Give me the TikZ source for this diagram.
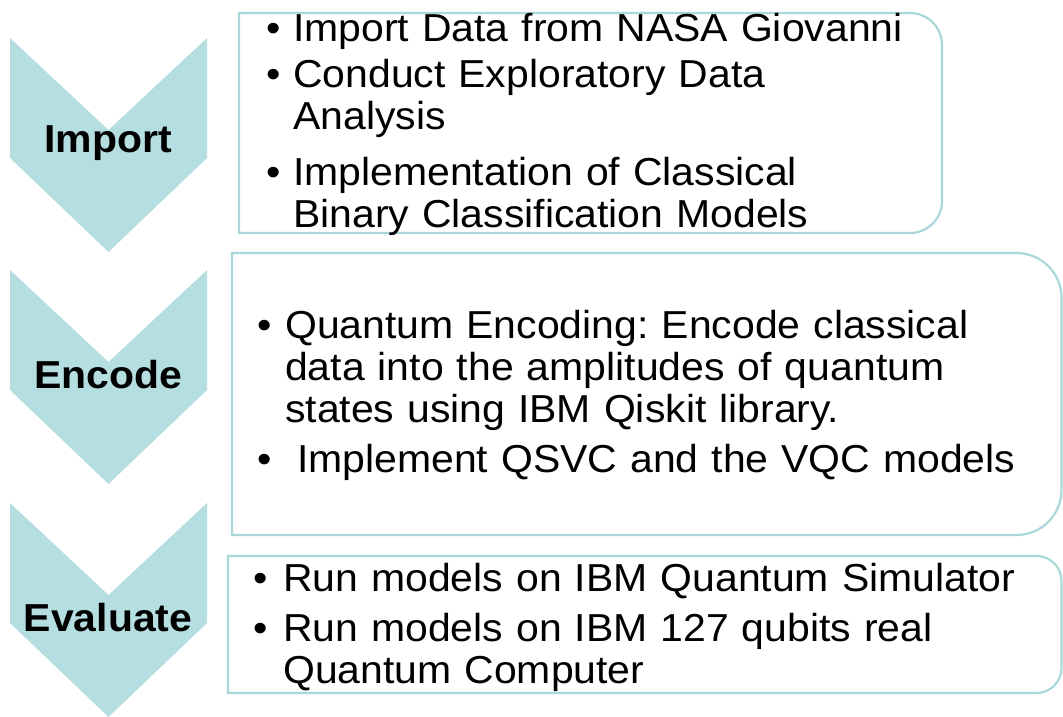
\documentclass[tikz,border=0pt]{standalone}
\usepackage{fontspec}
\setmainfont{Liberation Sans}[FakeStretch=1.05]
\usepackage{tikz}
\usepackage{xcolor}
\definecolor{chevteal}{RGB}{181,222,224}
\definecolor{boxteal}{RGB}{170,215,218}
\frenchspacing
% one bullet point with a hanging indent
\newcommand{\bulletline}[2][28pt]{\hangindent=#1\hangafter=1\noindent\makebox[#1][l]{\textbullet}#2\par}

\tikzset{
  chevron/.style={fill=chevteal},
  stagebox/.style={draw=boxteal, line width=2.2pt},
  stagelbl/.style={inner sep=0pt, font=\fontsize{39}{42}\selectfont\bfseries},
  itemtxt/.style={anchor=base west, inner sep=0pt, text width=800pt, font=\fontsize{39}{42}\selectfont}
}

\begin{document}
\begin{tikzpicture}[x=1pt, y=-1pt]
  \useasboundingbox (0,0) rectangle (1063,717);

  % chevrons on the left
  \foreach \ytop/\name/\txt/\ly in {38/imp/Import/143, 270/enc/Encode/375, 503/eva/Evaluate/618}{
    \fill[chevron] (10,\ytop) -- (108.5,\ytop+92) -- (207,\ytop) -- (207,\ytop+120)
      -- (108.5,\ytop+214) -- (10,\ytop+120) -- cycle;
    \node[stagelbl] (lbl\name) at (108,\ly) {\txt};
  }

  % boxes, rounded on the right side only
  \draw[stagebox] (590,13) [rounded corners=32pt] -- (942,13) -- (942,233) -- (590,233)
    [sharp corners] -- (239,233) -- (239,13) -- cycle;
  \draw[stagebox] (640,253) [rounded corners=45pt] -- (1061.5,253) -- (1061.5,535) -- (640,535)
    [sharp corners] -- (232,535) -- (232,253) -- cycle;
  \draw[stagebox] (640,556) [rounded corners=25pt] -- (1061.5,556) -- (1061.5,693) -- (640,693)
    [sharp corners] -- (228,693) -- (228,556) -- cycle;

  % Import
  \node[itemtxt] (imp1) at (266,42) {\bulletline[27pt]{Import Data from NASA Giovanni}};
  \node[itemtxt] (imp2) at (266,88) {\bulletline[27pt]{Conduct Exploratory Data\newline Analysis}};
  \node[itemtxt] (imp3) at (266,185) {\bulletline[27pt]{Implementation of Classical\newline Binary Classification Models}};

  % Encode
  \node[itemtxt] (enc1) at (257,338) {\bulletline{Quantum Encoding: Encode classical\newline data into the amplitudes of quantum\newline states using IBM Qiskit library.}};
  \node[itemtxt] (enc2) at (257,472) {\bulletline{\hspace{12pt}Implement QSVC and the VQC models}};

  % Evaluate
  \node[itemtxt] (eva1) at (253,591) {\bulletline[30pt]{Run models on IBM Quantum Simulator}};
  \node[itemtxt] (eva2) at (253,641) {\bulletline[30pt]{Run models on IBM 127 qubits real\newline Quantum Computer}};
\end{tikzpicture}
\end{document}
